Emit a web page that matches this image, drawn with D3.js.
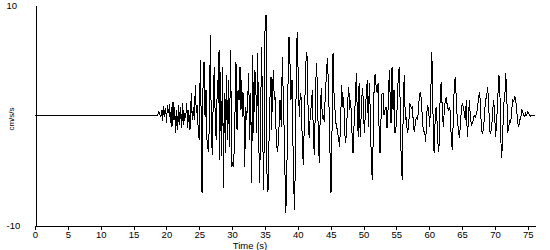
<!DOCTYPE html>
<html>
<head>
<meta charset="utf-8">
<script src="https://cdn.jsdelivr.net/npm/d3@7"></script>
<style>
  body { margin: 0; background: #fff; }
  svg { display: block; font-family: "Liberation Sans", Arial, sans-serif; }
</style>
</head>
<body>
<svg id="chart" width="550" height="250"></svg>
<script>
// accelerogram, values (peaks and troughs)
const timeSec = [
  0, 18.26, 18.3, 18.57, 18.87, 19.13, 19.33, 19.43, 19.58, 19.74, 19.89, 20.04, 20.14, 20.35, 20.45, 20.60,
  20.75, 20.85, 21.00, 21.16, 21.26, 21.41, 21.57, 21.72, 21.87, 22.02, 22.17, 22.33, 22.48, 22.63,
  22.78, 22.93, 23.09, 23.24, 23.39, 23.59, 23.79, 23.94, 24.10, 24.25, 24.40, 24.55, 24.70, 24.86,
  25.01, 25.16, 25.31, 25.42, 25.57, 25.72, 25.88, 26.03, 26.18, 26.38, 26.53, 26.69, 26.84, 26.99,
  27.14, 27.29, 27.45, 27.60, 27.75, 27.90, 28.01, 28.11, 28.26, 28.41, 28.57, 28.67, 28.82, 28.97,
  29.12, 29.27, 29.43, 29.58, 29.78, 29.93, 30.09, 30.24, 30.39, 30.59, 30.75, 30.90, 31.05, 31.20,
  31.35, 31.46, 31.61, 31.76, 31.92, 32.07, 32.22, 32.37, 32.52, 32.68, 32.83, 32.98, 33.13, 33.28,
  33.44, 33.59, 33.74, 33.89, 34.05, 34.20, 34.35, 34.50, 34.65, 34.81, 35.01, 35.16, 35.31, 35.46,
  35.62, 35.77, 35.92, 35.99, 36.27, 36.42, 36.58, 36.73, 36.94, 37.14, 37.29, 37.49, 37.64, 37.80,
  37.95, 38.16, 38.31, 38.46, 38.66, 38.81, 38.96, 39.12, 39.27, 39.47, 39.68, 39.77, 39.92, 40.08,
  40.23, 40.38, 40.53, 40.69, 40.84, 40.99, 41.14, 41.29, 41.45, 41.60, 41.75, 41.90, 42.05, 42.21,
  42.36, 42.51, 42.66, 42.82, 42.97, 43.12, 43.27, 43.42, 43.58, 43.73, 43.88, 44.03, 44.19, 44.34,
  44.49, 44.64, 44.79, 44.95, 45.05, 45.21, 45.36, 45.51, 45.66, 45.81, 46.01, 46.22, 46.37, 46.53,
  46.68, 46.83, 46.98, 47.14, 47.29, 47.44, 47.59, 47.75, 47.90, 48.05, 48.25, 48.40, 48.55, 48.75,
  48.91, 49.06, 49.21, 49.32, 49.42, 49.52, 49.67, 49.82, 49.97, 50.12, 50.28, 50.43, 50.58, 50.73,
  50.88, 51.04, 51.19, 51.34, 51.49, 51.64, 51.80, 51.95, 52.10, 52.21, 52.36, 52.51, 52.66, 52.82,
  52.97, 53.12, 53.27, 53.42, 53.58, 53.73, 53.93, 54.03, 54.19, 54.34, 54.49, 54.64, 54.79, 54.95,
  55.10, 55.30, 55.45, 55.60, 55.75, 55.91, 56.06, 56.21, 56.36, 56.51, 56.67, 56.87, 57.03, 57.18,
  57.33, 57.48, 57.58, 57.73, 57.88, 58.04, 58.19, 58.34, 58.49, 58.65, 58.80, 58.95, 59.10, 59.31,
  59.47, 59.62, 59.77, 59.92, 60.07, 60.23, 60.38, 60.53, 60.63, 60.78, 60.93, 61.08, 61.23, 61.39,
  61.54, 61.69, 61.84, 61.99, 62.15, 62.30, 62.45, 62.60, 62.76, 62.91, 63.06, 63.21, 63.36, 63.52,
  63.67, 63.82, 63.97, 64.12, 64.28, 64.43, 64.58, 64.73, 64.89, 65.04, 65.19, 65.34, 65.49, 65.65,
  65.80, 65.95, 66.10, 66.26, 66.41, 66.56, 66.71, 66.86, 67.02, 67.17, 67.32, 67.53, 67.69, 67.84,
  67.99, 68.14, 68.30, 68.45, 68.60, 68.75, 68.90, 69.06, 69.21, 69.36, 69.51, 69.67, 69.82, 69.97,
  70.12, 70.27, 70.43, 70.58, 70.73, 70.88, 71.03, 71.19, 71.34, 71.49, 71.64, 71.80, 71.95, 72.10,
  72.25, 72.40, 72.56, 72.71, 72.86, 73.01, 73.17, 73.32, 73.47, 73.62, 73.77, 73.93, 74.08, 74.23,
  74.38, 74.53, 74.69, 74.84, 74.99, 75.14, 75.30, 75.45, 75.65, 76.1
];
const accel = [
  0, 0, -0.09, -0.09, 0.30, -0.21, 0.45, -0.52, 0.82, -0.15, 0.61, -0.70, 0.91, 0.15, 1.00, -0.76,
  0.76, -1.06, 1.21, -0.45, 0.76, -1.67, 0.45, -1.36, 0.91, -0.91, 0.76, -1.21, 1.06, -0.91,
  0.15, -0.30, 1.12, -1.21, 0.45, -1.36, 1.97, -0.45, 0.76, -0.45, 2.73, 0.15, 0.91, -1.67,
  -2.27, 5.00, -0.76, -7.12, 2.42, 4.85, -0.15, 2.27, -2.27, -3.33, -1.06, 7.27, -1.67, -3.64,
  1.97, 4.39, -1.06, -2.27, 3.18, 1.06, 5.91, -4.09, 3.94, -3.73, 4.39, -6.67, 1.97, -3.48,
  3.64, -2.27, 3.18, -2.88, 5.91, -4.70, -4.39, -4.70, -1.36, 4.85, -1.36, 2.27, 1.36, 4.39,
  0.45, 3.18, -0.15, 1.97, -4.70, 0.76, -0.45, 1.36, 3.79, -2.27, 1.97, -6.21, 5.45, -1.67,
  4.09, 3.48, -1.67, 5.61, -2.27, -6.21, 0.76, 6.21, -1.67, -6.82, 7.73, 9.09, -5.30, -6.97,
  -2.27, 1.67, 3.48, -1.36, 4.09, 1.36, 1.67, -2.58, -3.33, -1.06, 1.36, -1.06, 5.30, 1.36,
  -1.97, -8.94, -6.52, 1.36, 7.12, 4.70, 1.36, 3.18, -2.88, -8.64, -3.18, 5.61, 7.58, 2.88,
  -0.15, 1.97, 1.52, -2.88, -4.55, -0.76, 2.88, 5.76, 5.15, -1.06, -2.12, 0.15, 0.76, 2.27,
  -1.67, -3.64, 0.45, 4.70, 2.88, -1.97, -4.39, 0.45, 2.42, -0.30, -0.15, -0.61, 1.97, 3.48,
  5.15, 3.18, -0.15, -5.00, -7.12, -1.36, 5.61, 1.97, 0.45, -0.76, -1.36, -2.27, -2.88, -0.15,
  2.73, 0.76, 1.67, -1.67, -2.58, -1.06, 1.21, 2.58, 0.45, 1.36, -1.67, -3.48, -1.06, 1.36,
  3.79, -0.15, -1.97, 2.88, -0.45, -1.97, 0.45, 2.42, 1.36, -1.67, 0.15, 2.12, 3.18, -1.06,
  2.88, 0.15, -4.39, -5.91, -1.67, 3.48, 3.64, 2.27, 1.97, 2.88, -1.06, -3.48, -0.45, 1.97,
  1.97, 0, 0.45, 0.76, -1.21, 0.45, 4.09, 2.12, -0.76, 4.39, 0.45, 2.27, -1.67, -1.06,
  0.45, 3.64, 4.39, 0.45, -4.70, -5.91, 1.67, 3.64, -0.45, -0.15, -1.67, -1.06, 1.06, 0.76,
  0.61, 0.76, -1.06, -1.52, -0.76, -0.15, -0.45, 0.15, 1.67, 2.12, 1.36, -0.15, -1.52, -1.52,
  -2.42, 0.15, 0.91, 0.45, -1.06, 1.52, 5.76, 3.18, -3.18, -3.33, 0.45, 0.76, -1.06, -3.33,
  -2.58, 2.73, 2.88, 0.45, -1.06, 0.45, 1.36, 1.67, 0.76, 0.45, 0.76, 0.30, -2.27, -3.18,
  -0.15, 2.88, 3.48, 1.36, -0.45, -1.21, -2.12, -1.06, 0.45, 1.06, 0.76, 0.15, -0.45, 1.36,
  -1.97, -0.76, 1.36, -0.15, -0.91, -0.76, -0.45, 0, -0.30, 0.15, 0.45, 1.67, 2.12, 0.15,
  -1.52, -1.67, -1.06, 0.45, 1.36, 1.82, 2.52, 0.76, -1.52, -1.67, -1.06, 0.45, 1.36, -0.15,
  -1.97, -0.45, 1.36, 3.64, 3.18, -1.97, -3.94, -1.67, 1.06, 1.36, 3.79, 1.97, -1.67, -1.06,
  -0.45, -0.76, 0.45, 1.36, 1.21, 1.73, 1.36, 0.45, -0.76, -1.06, -0.45, -0.30, 0.45, 0.30,
  0, -0.15, 0.15, 0, 0.30, 0.15, 0, -0.15, 0, -0.03
];
const xTicks = [0, 5, 10, 15, 20, 25, 30, 35, 40, 45, 50, 55, 60, 65, 70, 75];
const yTicks = [-10, 10];

const svg = d3.select("#chart");

const x = d3.scaleLinear().domain([0, 76.1]).range([35, 535]);
const y = d3.scaleLinear().domain([-10, 10]).range([225, 5]);

const pts = timeSec.map((t, i) => [t, accel[i]]);

// trace
svg.append("path")
  .datum(pts)
  .attr("d", d3.line().x(d => x(d[0])).y(d => y(d[1])))
  .attr("fill", "none")
  .attr("stroke", "#000")
  .attr("stroke-width", 1)
  .attr("shape-rendering", "crispEdges");

// x axis
const gx = svg.append("g")
  .attr("transform", "translate(0,225.5)")
  .call(d3.axisBottom(x).tickValues(xTicks).tickSize(4).tickSizeOuter(0).tickPadding(2));
gx.selectAll("text").attr("font-size", 9.5).attr("font-family", "Liberation Sans, Arial, sans-serif").attr("fill", "#000");
gx.selectAll("line,path").attr("stroke", "#000").attr("shape-rendering", "crispEdges");

// y axis
const gy = svg.append("g")
  .attr("transform", "translate(35.5,0)")
  .call(d3.axisLeft(y).tickValues(yTicks).tickSize(0).tickSizeOuter(0).tickFormat(d => String(d)));
gy.selectAll("text")
  .attr("font-size", 9.5)
  .attr("font-family", "Liberation Sans, Arial, sans-serif")
  .attr("fill", "#000")
  .attr("text-anchor", "start")
  .attr("x", -29);
gy.select("path").attr("stroke", "#000").attr("shape-rendering", "crispEdges");

// labels
svg.append("text")
  .attr("x", 250)
  .attr("y", 248.5)
  .attr("text-anchor", "middle")
  .attr("font-size", 9.5)
  .text("Time (s)");

svg.append("text")
  .attr("transform", "translate(13.5,119) rotate(-90)")
  .attr("text-anchor", "middle")
  .attr("font-size", 8)
  .text("cm/s/s");
</script>
</body>
</html>
